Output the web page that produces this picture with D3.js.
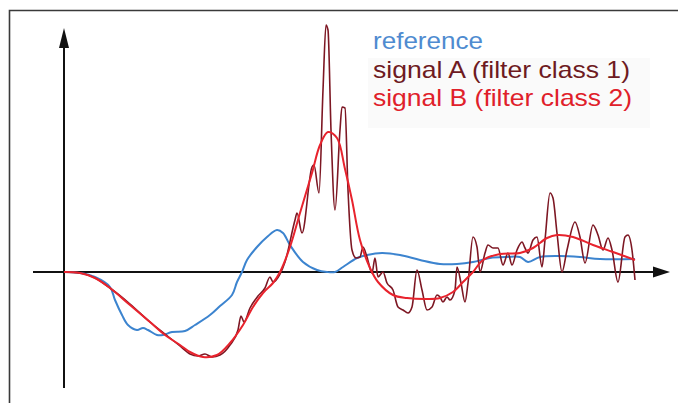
<!DOCTYPE html>
<html>
<head>
<meta charset="utf-8">
<script src="https://cdn.jsdelivr.net/npm/d3@7"></script>
<style>
  html, body { margin: 0; padding: 0; background: #ffffff; overflow: hidden; }
  svg { display: block; }
</style>
</head>
<body>
<svg id="chart" width="678" height="403"></svg>
<script>
// ---- data (x: time units, y: amplitude) ----
const seriesNames = ["reference", "signal A (filter class 1)", "signal B (filter class 2)"];

const referenceX = [0, 1.6, 3.1, 4.6, 5.1, 5.8, 6.4, 7.3, 7.9, 8.4, 9.3, 9.9, 10.8, 12.1, 13.1, 14.6, 15.6, 16.8, 17.3, 17.8, 18.3, 19.3, 20.3, 21.3, 21.9, 22.6, 23.9, 25.3, 26.3, 27.1, 27.9, 29.3, 30.3, 31.8, 33.6, 35.6, 37.6, 39.3, 40.9, 42.6, 44.3, 45.6, 46.4, 47.6, 49.6, 51.6, 53.6, 57.1];
const referenceY = [0, -0.01, -0.05, -0.15, -0.28, -0.43, -0.53, -0.58, -0.56, -0.58, -0.63, -0.63, -0.60, -0.59, -0.53, -0.43, -0.34, -0.23, -0.10, 0, 0.12, 0.25, 0.35, 0.42, 0.39, 0.27, 0.10, 0.02, 0, 0, 0.05, 0.14, 0.17, 0.19, 0.17, 0.12, 0.08, 0.08, 0.10, 0.14, 0.15, 0.15, 0.10, 0.15, 0.16, 0.15, 0.13, 0.13];

const signalAX = [0, 1.6, 3.1, 4.6, 6.6, 8.6, 10.1, 11.6, 12.6, 13.4, 14.1, 14.8, 15.6, 16.6, 17.4, 17.7, 18.0, 18.6, 19.4, 20.1, 20.6, 20.9, 21.6, 22.1, 23.1, 23.3, 23.8, 24.8, 25.0, 25.5, 25.9, 26.2, 26.4, 26.7, 27.1, 27.6, 27.8, 28.1, 28.4, 28.8, 29.2, 29.6, 29.9, 30.3, 30.8, 31.1, 31.4, 31.9, 32.3, 32.9, 33.4, 33.9, 34.4, 34.8, 35.3, 35.8, 36.3, 36.8, 37.3, 37.6, 37.9, 38.3, 38.6, 39.1, 39.3, 39.7, 40.1, 40.4, 40.9, 41.3, 41.6, 42.1, 42.4, 42.9, 43.4, 43.9, 44.4, 44.8, 45.3, 45.8, 46.1, 46.4, 46.9, 47.3, 47.8, 48.1, 48.6, 48.9, 49.3, 49.8, 50.3, 51.1, 51.6, 52.1, 52.9, 53.4, 53.9, 54.4, 54.8, 55.4, 56.1, 56.4, 56.8, 57.1];
const signalAY = [0, -0.01, -0.06, -0.16, -0.32, -0.50, -0.62, -0.74, -0.82, -0.84, -0.82, -0.85, -0.83, -0.73, -0.58, -0.44, -0.50, -0.36, -0.24, -0.16, -0.05, -0.10, -0.02, 0.10, 0.52, 0.59, 0.39, 1.05, 1.07, 0.79, 1.82, 2.47, 2.42, 1.42, 0.62, 1.42, 1.65, 1.64, 0.82, 0.22, 0.14, 0.15, 0.25, 0.15, -0.01, 0.14, -0.05, 0.00, -0.11, -0.18, -0.35, -0.38, -0.41, -0.35, 0.02, -0.18, -0.38, -0.35, -0.23, -0.25, -0.30, -0.25, -0.28, -0.18, 0.05, -0.11, -0.30, -0.11, 0.35, 0.25, 0.00, 0.19, 0.27, 0.24, 0.24, 0.07, 0.19, 0.07, 0.22, 0.30, 0.24, 0.19, 0.32, 0.35, 0.05, 0.32, 0.79, 0.74, 0.39, 0.00, 0.22, 0.50, 0.35, 0.09, 0.47, 0.37, 0.22, 0.34, 0.22, -0.10, 0.35, 0.37, 0.22, -0.08];

const signalBX = [0, 1.6, 3.1, 4.6, 6.6, 8.6, 10.1, 11.6, 12.6, 13.9, 15.3, 16.6, 17.9, 18.9, 19.9, 20.9, 21.6, 22.6, 23.6, 24.8, 25.6, 26.4, 27.3, 28.1, 28.8, 29.6, 30.6, 31.4, 32.9, 34.3, 36.3, 37.6, 38.9, 39.9, 40.9, 41.9, 43.6, 45.6, 46.9, 48.3, 49.3, 50.9, 52.9, 54.9, 57.1];
const signalBY = [0, -0.01, -0.06, -0.16, -0.33, -0.50, -0.63, -0.73, -0.80, -0.85, -0.83, -0.71, -0.53, -0.35, -0.21, -0.11, 0, 0.25, 0.59, 0.99, 1.27, 1.40, 1.34, 1.03, 0.72, 0.32, 0.04, -0.10, -0.23, -0.26, -0.27, -0.26, -0.20, -0.10, 0, 0.12, 0.18, 0.19, 0.24, 0.34, 0.37, 0.35, 0.27, 0.20, 0.12];

const seriesColors = ["#3c84cf", "#7d1723", "#e8232d"];
const legendColors = ["#4f8bd0", "#6e1a22", "#e0202a"];

// ---- layout ----
const svg = d3.select("#chart");
const x = d3.scaleLinear().domain([0, 57]).range([64, 634]);
const y = d3.scaleLinear().domain([-1.2, 2.5]).range([392, 22]);

// frame (left and top edges only visible)
svg.append("path")
  .attr("d", "M9.5,420 L9.5,10.5 L690,10.5")
  .attr("fill", "none").attr("stroke", "#3a3a3a").attr("stroke-width", 1.6);

// legend background (very faint)
svg.append("rect")
  .attr("x", 368).attr("y", 58).attr("width", 282).attr("height", 70)
  .attr("fill", "#fafafa");

// axes (no ticks)
const axisG = svg.append("g");
axisG.append("line")
  .attr("x1", x(-3.1)).attr("x2", x(59.2))
  .attr("y1", y(0)).attr("y2", y(0))
  .attr("stroke", "#111").attr("stroke-width", 2);
axisG.append("path")
  .attr("d", `M${x(60.6)},${y(0)} L${x(58.9)},${y(0) - 5.5} L${x(58.9)},${y(0) + 5.5} Z`)
  .attr("fill", "#111");
axisG.append("line")
  .attr("x1", x(0)).attr("x2", x(0))
  .attr("y1", y(-1.16)).attr("y2", y(2.3))
  .attr("stroke", "#111").attr("stroke-width", 2);
axisG.append("path")
  .attr("d", `M${x(0)},${y(2.44)} L${x(0) - 5},${y(2.24)} L${x(0) + 5},${y(2.24)} Z`)
  .attr("fill", "#111");

// lines
const zipXY = (xs, ys) => xs.map((d, i) => [d, ys[i]]);
const smooth = d3.line().x(d => x(d[0])).y(d => y(d[1])).curve(d3.curveCatmullRom.alpha(0.5));
const jagged = d3.line().x(d => x(d[0])).y(d => y(d[1])).curve(d3.curveMonotoneX);

svg.append("path").datum(zipXY(referenceX, referenceY))
  .attr("d", smooth).attr("fill", "none")
  .attr("stroke", seriesColors[0]).attr("stroke-width", 2).attr("stroke-linejoin", "round");

svg.append("path").datum(zipXY(signalAX, signalAY))
  .attr("d", jagged).attr("fill", "none")
  .attr("stroke", seriesColors[1]).attr("stroke-width", 1.6).attr("stroke-linejoin", "round");

svg.append("path").datum(zipXY(signalBX, signalBY))
  .attr("d", smooth).attr("fill", "none")
  .attr("stroke", seriesColors[2]).attr("stroke-width", 2).attr("stroke-linejoin", "round");

// legend text
const legendLengths = [110, 257, 259];
svg.append("g").selectAll("text")
  .data(seriesNames)
  .join("text")
  .attr("x", 373)
  .attr("y", (d, i) => 49 + i * 28.5)
  .attr("font-family", "'Liberation Sans', Arial, Helvetica, sans-serif")
  .attr("font-size", 24)
  .attr("fill", (d, i) => legendColors[i])
  .attr("textLength", (d, i) => legendLengths[i])
  .attr("lengthAdjust", "spacingAndGlyphs")
  .text(d => d);
</script>
</body>
</html>
